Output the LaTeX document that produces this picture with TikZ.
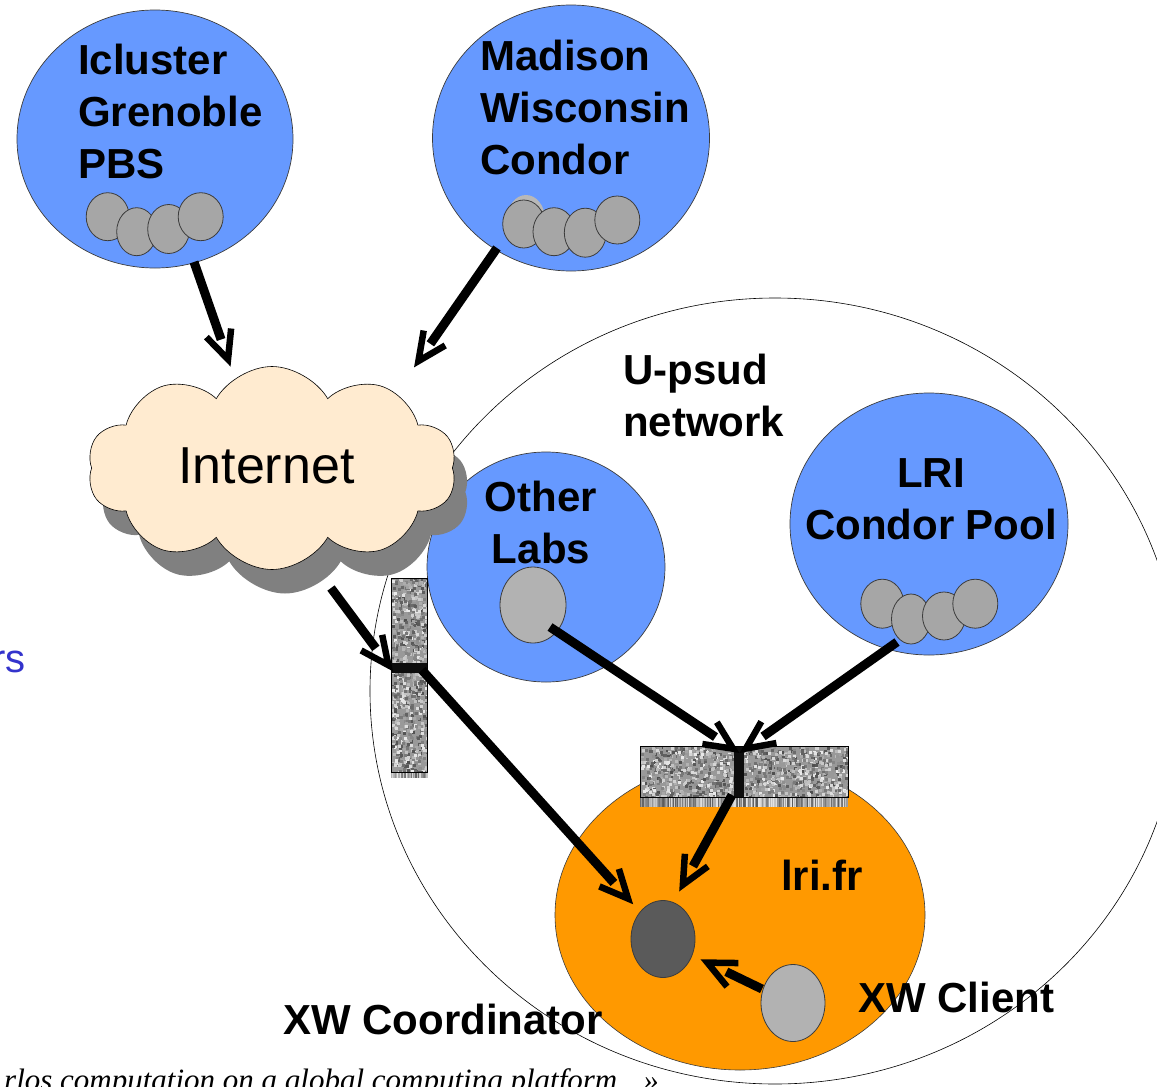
\documentclass[tikz,border=0pt]{standalone}
\usepackage{fontspec}
\setmainfont{Liberation Sans}
\newfontfamily\serifit{Liberation Serif}
\usetikzlibrary{shapes.geometric,shapes.symbols,calc}

\definecolor{siteblue}{RGB}{102,153,255}
\definecolor{cloudfill}{RGB}{255,235,208}
\definecolor{cloudshadow}{RGB}{128,128,128}
\definecolor{lriorange}{RGB}{255,153,0}
\definecolor{nodegray}{RGB}{166,166,166}
\definecolor{ghostgray}{RGB}{184,184,184}
\definecolor{lightnode}{RGB}{178,178,178}
\definecolor{coordgray}{RGB}{90,90,90}
\definecolor{edgegray}{RGB}{60,60,60}
\definecolor{ysblue}{RGB}{51,51,204}

\tikzset{
  site/.style={ellipse, draw=edgegray, line width=0.7pt, fill=siteblue, inner sep=0pt},
  pc/.style={ellipse, draw=edgegray, line width=0.8pt, fill=nodegray, inner sep=0pt},
  lbl/.style={font=\fontsize{42}{52}\selectfont\bfseries, inner sep=0pt},
  shaftline/.style={line width=9pt},
  barbline/.style={line width=6.5pt, miter limit=10},
  inetcloud/.style={cloud, cloud puffs=10, cloud puff arc=120, cloud ignores aspect,
    minimum width=369pt, minimum height=203pt, inner sep=0pt},
}

\newcommand\noisefill[5]{% x0 y0 x1 y1 count
  \begin{scope}
    \clip (#1,#2) rectangle (#3,#4);
    \fill[black!40] (#1,#2) rectangle (#3,#4);
    \foreach \k in {1,...,#5}{%
      \pgfmathsetmacro\nx{#1+(#3-#1)*rnd}%
      \pgfmathsetmacro\ny{#2+(#4-#2)*rnd}%
      \pgfmathtruncatemacro\np{8+62*rnd}%
      \fill[black!\np] (\nx,\ny) rectangle ++(3,3);
    }
  \end{scope}}

\newcommand\fringe[4]{% x0 y0 x1 y1
  \foreach \fx in {#1,...,#3}{%
    \pgfmathtruncatemacro\fp{10+55*rnd}%
    \fill[black!\fp] (\fx,#2) rectangle ++(2,#4-#2);
  }}

\newcommand\fatarrow[2]{%
  \coordinate (#2v) at ($(#2)!6pt!(#1)$);
  \draw[shaftline] (#1) -- ($(#2)!27pt!(#1)$);
  \draw[barbline] ($(#2v)!31pt!25:(#1)$) -- (#2v) -- ($(#2v)!31pt!-25:(#1)$);}

\begin{document}
\begin{tikzpicture}[x=1pt, y=-1pt]
\pgfmathsetseed{4242}
\useasboundingbox (0,0) rectangle (1157,1087);

% U-psud network
\node[ellipse, draw=black, line width=0.6pt, minimum width=810pt, minimum height=786pt, inner sep=0pt] (upsud) at (775,691) {};

% Icluster Grenoble
\node[site, minimum width=276pt, minimum height=258pt] (icl) at (155,139) {};
\node[pc, minimum width=43pt, minimum height=48pt] (icl1) at (107.7,216.7) {};
\node[pc, minimum width=40pt, minimum height=48pt] (icl2) at (136.7,231.7) {};
\node[pc, minimum width=42pt, minimum height=49pt] (icl3) at (168.7,229) {};
\node[pc, minimum width=45pt, minimum height=48pt] (icl4) at (200.7,216.7) {};

% Madison
\node[site, minimum width=277pt, minimum height=266pt] (mad) at (571,138) {};
\node[ellipse, fill=ghostgray, inner sep=0pt, minimum width=38pt, minimum height=48pt] (madg) at (526,219) {};
\node[pc, minimum width=42pt, minimum height=48pt] (mad1) at (523.7,224) {};
\node[pc, minimum width=42pt, minimum height=48pt] (mad2) at (554,231.7) {};
\node[pc, minimum width=42pt, minimum height=49pt] (mad3) at (585.3,232.7) {};
\node[pc, minimum width=45pt, minimum height=48pt] (mad4) at (617.3,220) {};

% Other labs
\node[site, minimum width=238pt, minimum height=230pt] (oth) at (546,567) {};
\node[pc, fill=lightnode, minimum width=66pt, minimum height=76pt] (othpc) at (533,605) {};

% LRI Condor pool
\node[site, minimum width=278pt, minimum height=262pt] (lri) at (929,524) {};
\node[pc, minimum width=43pt, minimum height=49pt] (lri1) at (882.3,603.7) {};
\node[pc, minimum width=39pt, minimum height=50pt] (lri2) at (911,619) {};
\node[pc, minimum width=43pt, minimum height=48pt] (lri3) at (944,616) {};
\node[pc, minimum width=45pt, minimum height=49pt] (lri4) at (975.3,603.7) {};

% lri.fr
\node[ellipse, draw=edgegray, line width=0.6pt, fill=lriorange, inner sep=0pt, minimum width=370pt, minimum height=310pt] (lrifr) at (740,915) {};
\node[pc, fill=coordgray, minimum width=64pt, minimum height=77pt] (coord) at (663,939) {};
\node[pc, fill=lightnode, minimum width=64pt, minimum height=77pt] (client) at (793,1003) {};

% firewalls
\noisefill{391}{578}{427}{772}{900}
\fringe{391}{772}{426}{778}
\node[draw=black, line width=0.6pt, inner sep=0pt, minimum width=36pt, minimum height=194pt] (fwl) at (409,675) {};
\fill[black!95] (391,663) rectangle (427,673);
\noisefill{640}{746}{848}{797}{1300}
\fringe{640}{797}{846}{807}
\node[draw=black, line width=0.6pt, inner sep=0pt, minimum width=208pt, minimum height=51pt] (fwr) at (744,771.5) {};
\fill[black!95] (734,747) rectangle (744,797);

% Internet cloud
\node[inetcloud, fill=cloudshadow] (inetsh) at (285,492) {};
\node[inetcloud, draw=black, line width=0.6pt, fill=cloudfill] (inet) at (272,468) {};
\node[font=\fontsize{52}{60}\selectfont, inner sep=0pt, anchor=base west] (inettxt) at (178,483) {Internet};

% labels
\node[lbl, align=left, anchor=north west] (icltxt) at (78,44) {Icluster\\Grenoble\\PBS};
\node[lbl, align=left, anchor=north west] (madtxt) at (480,40) {Madison\\Wisconsin\\Condor};
\node[lbl, align=left, anchor=north west] (uptxt) at (623,354) {U-psud\\network};
\node[lbl, align=center, anchor=north] (othtxt) at (541,481) {Other\\Labs};
\node[lbl, align=center, anchor=north] (lritxt) at (931,458) {LRI\\Condor Pool};
\node[lbl, anchor=base] (lrifrtxt) at (822,890) {lri.fr};
\node[lbl, anchor=base west] (coordtxt) at (283,1034) {XW Coordinator};
\node[lbl, anchor=base west] (clienttxt) at (858,1012) {XW Client};
\node[font=\fontsize{40}{48}\selectfont, text=ysblue, inner sep=0pt, anchor=base east] (ystxt) at (26,672) {rs};
\node[font=\serifit\itshape\fontsize{31}{36}\selectfont, inner sep=0pt, anchor=base west] (captxt) at (4,1090) {rlos computation on a global computing platform\hspace{26pt}»};

% arrows
\coordinate (aS) at (194,262);  \coordinate (aT) at (230,365);
\coordinate (bS) at (497,248);  \coordinate (bT) at (415,366);
\coordinate (cS) at (331,588);  \coordinate (cT) at (392,670);
\coordinate (dS) at (422,670);  \coordinate (dT) at (632,903);
\coordinate (eS) at (550,627);  \coordinate (eT) at (738,752);
\coordinate (fS) at (897,642);  \coordinate (fT) at (741,752);
\coordinate (gS) at (732,795);  \coordinate (gT) at (680,890);
\coordinate (hS) at (762,989);  \coordinate (hT) at (702,960);
\fatarrow{aS}{aT}
\fatarrow{bS}{bT}
\fatarrow{cS}{cT}
\fatarrow{dS}{dT}
\fatarrow{eS}{eT}
\fatarrow{fS}{fT}
\fatarrow{gS}{gT}
\fatarrow{hS}{hT}
\end{tikzpicture}
\end{document}
